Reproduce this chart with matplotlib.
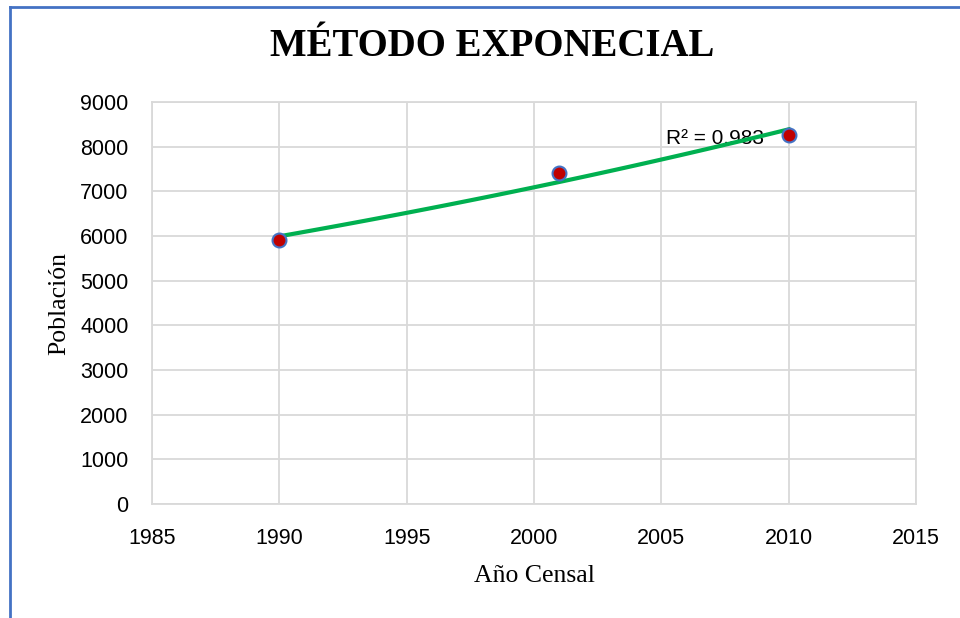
import numpy as np
import matplotlib
matplotlib.use("Agg")
import matplotlib.pyplot as plt
from matplotlib.lines import Line2D

# censo data
anios = [1990, 2001, 2010]
poblacion = [5918, 7415, 8260]
r2_label = "R² = 0.983"

x_ticks = [1985, 1990, 1995, 2000, 2005, 2010, 2015]
y_ticks = [0, 1000, 2000, 3000, 4000, 5000, 6000, 7000, 8000, 9000]

sans = "Liberation Sans"
serif = "Liberation Serif"

fig = plt.figure(figsize=(9.6, 6.18), dpi=100)
ax = fig.add_axes([152 / 960, 1 - 504 / 618, 764 / 960, 402 / 618])

# exponential trendline (like Excel)
b, a = np.polyfit(anios, np.log(poblacion), 1)
xs = np.linspace(anios[0], anios[-1], 100)
ax.plot(xs, np.exp(a + b * xs), color="#00B050", lw=3, zorder=3)

ax.plot(anios, poblacion, linestyle="none", marker="o", ms=10,
        markerfacecolor="#C00000", markeredgecolor="#4472C4", mew=1.5, zorder=4)

ax.text(2007.1, 8180, r2_label, ha="center", va="center",
        fontsize=15, family=sans, zorder=2)

ax.set_xlim(1985, 2015)
ax.set_ylim(0, 9000)
ax.set_xticks(x_ticks)
ax.set_yticks(y_ticks)
ax.tick_params(length=0, labelsize=15.5, pad=17)
for lab in ax.get_xticklabels() + ax.get_yticklabels():
    lab.set_family(sans)
ax.grid(True, color="#D9D9D9", lw=1.3)
ax.set_axisbelow(True)
for s in ax.spines.values():
    s.set_color("#D9D9D9")
    s.set_linewidth(1.3)

fig.text(492 / 960, 1 - 47 / 618, "MÉTODO EXPONECIAL", ha="center", va="center",
         fontsize=28, fontweight="bold", family=serif)
fig.text(534 / 960, 1 - 576 / 618, "Año Censal", ha="center", va="center",
         fontsize=18.5, family=serif)
fig.text(59 / 960, 1 - 304 / 618, "Población", ha="center", va="center",
         rotation=90, fontsize=18.5, family=serif)

# blue chart border (left and top)
fig.add_artist(Line2D([9.5 / 960, 9.5 / 960], [0, 1 - 6.5 / 618], color="#4472C4", lw=2))
fig.add_artist(Line2D([9.5 / 960, 1], [1 - 6.5 / 618, 1 - 6.5 / 618], color="#4472C4", lw=2))

fig.savefig("out.png", dpi=100)
